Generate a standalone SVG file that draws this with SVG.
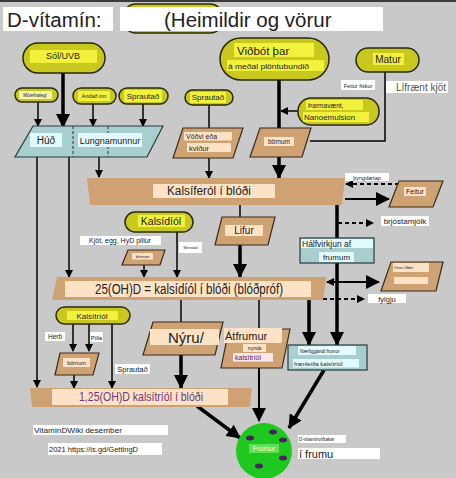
<svg xmlns="http://www.w3.org/2000/svg" width="456" height="478" viewBox="0 0 456 478">
<style>
text{font-family:"Liberation Sans",Arial,sans-serif;fill:#222}
.pill{fill:#c8c81e;stroke:#2a2a08;stroke-width:1.5}
.pl{fill:#f2f23c}
.tan{fill:#cfa273;stroke:#3a2a1a;stroke-width:1.2}
.bar{fill:#cfa273}
.tl{fill:#fde2c6}
.wb{fill:#ffffff}
.teal{fill:#a8cfd0;stroke:#2a3a3a;stroke-width:1.2}
.cy{fill:#e2fafc}
.ln{stroke:#000;stroke-width:1.5;fill:none}
.tk{stroke:#000;stroke-width:3.5;fill:none}
.ds{stroke:#000;stroke-width:2;fill:none;stroke-dasharray:4 3}
</style>
<defs>
<marker id="ah" markerWidth="8" markerHeight="8" refX="7" refY="4" orient="auto-start-reverse" markerUnits="userSpaceOnUse"><path d="M0,0 L8,4 L0,8 z" fill="#000"/></marker>
<marker id="AH" markerWidth="14" markerHeight="14" refX="13" refY="7" orient="auto-start-reverse" markerUnits="userSpaceOnUse"><path d="M0,0 L14,7 L0,14 z" fill="#000"/></marker>
</defs>
<rect x="0" y="0" width="456" height="478" fill="#c9c9c9"/>
<rect x="0" y="0" width="456" height="2" fill="#3a3a3a"/>

<g id="title">
<rect x="123" y="4" width="100" height="29" rx="13" class="pill"/>
<rect x="3" y="7" width="110" height="24" class="wb"/>
<text x="7" y="27" font-size="20.5">D-vítamín:</text>
<rect x="120" y="7" width="263" height="24" class="wb"/>
<text x="164" y="27" font-size="20.5">(Heimildir og vörur</text>
</g>

<g id="connectors">
<line x1="38" y1="102" x2="38" y2="126" class="ln" marker-end="url(#ah)"/>
<line x1="63" y1="73" x2="63" y2="127" class="tk" marker-end="url(#AH)"/>
<line x1="93" y1="104" x2="93" y2="126" class="ln" marker-end="url(#ah)"/>
<line x1="143" y1="104" x2="143" y2="126" class="ln" marker-end="url(#ah)"/>
<line x1="209" y1="105" x2="209" y2="128" class="ln"/>
<line x1="279" y1="80" x2="279" y2="128" class="tk"/>
<line x1="298" y1="111" x2="281" y2="111" class="ln" marker-end="url(#ah)"/>
<polyline points="385,72 385,141 310,141" class="ln"/>
<line x1="99" y1="157" x2="99" y2="177" class="ln" marker-end="url(#ah)"/>
<line x1="209" y1="158" x2="209" y2="178" class="ln" marker-end="url(#ah)"/>
<line x1="279" y1="157" x2="279" y2="178" class="tk" marker-end="url(#AH)"/>
<line x1="37" y1="157" x2="37" y2="387" class="ln" marker-end="url(#ah)"/>
<line x1="69" y1="157" x2="69" y2="277" class="ln" marker-end="url(#ah)"/>
<line x1="345" y1="199" x2="389" y2="199" class="ln" marker-end="url(#AH)" style="stroke-width:2"/>
<line x1="399" y1="184" x2="346" y2="184" class="ds" marker-end="url(#ah)"/>
<line x1="337" y1="205" x2="337" y2="345" class="tk" marker-end="url(#AH)"/>
<line x1="338" y1="223" x2="373" y2="223" class="ds" marker-end="url(#ah)"/>
<line x1="240" y1="205" x2="240" y2="217" class="ln"/>
<line x1="240" y1="245" x2="240" y2="277" class="tk" marker-end="url(#AH)"/>
<line x1="144" y1="265" x2="144" y2="277" class="ln" marker-end="url(#ah)"/>
<line x1="177" y1="232" x2="177" y2="277" class="ln" marker-end="url(#ah)"/>
<line x1="327" y1="282" x2="379" y2="282" class="ln" marker-start="url(#ah)" marker-end="url(#AH)" style="stroke-width:1.8"/>
<line x1="323" y1="299" x2="364" y2="299" class="ds" marker-end="url(#ah)"/>
<line x1="181" y1="300" x2="181" y2="322" class="ln"/>
<line x1="181" y1="355" x2="181" y2="388" class="tk" marker-end="url(#AH)"/>
<line x1="259" y1="300" x2="259" y2="329" class="ln"/>
<line x1="259" y1="368" x2="259" y2="421" class="ln" marker-end="url(#AH)" style="stroke-width:2"/>
<line x1="309" y1="300" x2="309" y2="345" class="tk" marker-end="url(#AH)"/>
<line x1="324" y1="370" x2="289" y2="428" class="tk" marker-end="url(#AH)"/>
<line x1="197" y1="406" x2="240" y2="438" class="tk" marker-end="url(#AH)"/>
<line x1="73" y1="324" x2="73" y2="351" class="ln" marker-end="url(#ah)"/>
<line x1="89" y1="324" x2="89" y2="351" class="ln" marker-end="url(#ah)"/>
<line x1="74" y1="375" x2="74" y2="388" class="ln" marker-end="url(#ah)"/>
<line x1="112" y1="324" x2="112" y2="388" class="ln" marker-end="url(#ah)"/>
</g>

<g id="sol">
<rect x="23" y="43" width="82" height="30" rx="15" class="pill"/>
<rect x="30" y="50" width="67" height="13" class="pl"/>
<text x="63" y="59" font-size="9" text-anchor="middle">Sól/UVB</text>
</g>
<g id="motefna">
<rect x="15" y="88" width="43" height="14" rx="7" class="pill"/>
<rect x="19" y="91" width="33" height="8" class="pl" style="fill:#f6f6b0"/>
<text x="35" y="97" font-size="4.5" text-anchor="middle">Mótefnalegt</text>
</g>
<g id="andad">
<rect x="73" y="88" width="43" height="16" rx="8" class="pill"/>
<rect x="78" y="91" width="32" height="10" class="pl"/>
<text x="94" y="98" font-size="5.5" text-anchor="middle">Andað inn</text>
</g>
<g id="sprautad1">
<rect x="119" y="88" width="49" height="16" rx="8" class="pill"/>
<rect x="124" y="90" width="38" height="12" class="pl"/>
<text x="143" y="99" font-size="8" text-anchor="middle">Sprautað</text>
</g>
<g id="sprautad2">
<rect x="185" y="90" width="48" height="15" rx="7.5" class="pill"/>
<rect x="190" y="92" width="36" height="11" class="pl"/>
<text x="208" y="100" font-size="8" text-anchor="middle">Sprautað</text>
</g>
<g id="vidbot">
<rect x="220" y="38" width="109" height="42" rx="21" class="pill"/>
<rect x="234" y="43" width="80" height="14" class="pl"/>
<text x="237" y="55" font-size="11.5">Viðbót þar</text>
<rect x="227" y="60" width="97" height="11" class="pl"/>
<text x="228" y="68.5" font-size="8" textLength="81" lengthAdjust="spacingAndGlyphs">á meðal plöntubundið</text>
</g>
<g id="tharmavaent">
<rect x="298" y="98" width="81" height="27" rx="13" class="pill"/>
<rect x="306" y="100" width="57" height="10" class="pl"/>
<text x="308" y="108" font-size="6.5">Þarmavænt,</text>
<rect x="303" y="112" width="66" height="10" class="pl"/>
<text x="304" y="120" font-size="8">Nanoemulsion</text>
</g>
<g id="matur">
<rect x="356" y="48" width="63" height="24" rx="12" class="pill"/>
<rect x="373" y="53" width="31" height="12" class="pl"/>
<text x="388" y="63" font-size="10" text-anchor="middle">Matur</text>
</g>
<g id="matur-labels">
<rect x="341" y="80" width="34" height="10" class="wb"/>
<text x="358" y="87.5" font-size="5.5" text-anchor="middle">Feitur fiskur</text>
<rect x="386" y="81" width="62" height="12" class="wb"/>
<text x="396" y="90.5" font-size="10" fill="#555" style="fill:#555">Lífrænt kjöt</text>
</g>

<g id="hud">
<polygon points="33,126 163,126 147,157 15,157" class="teal"/>
<line x1="73" y1="126" x2="73" y2="157" stroke="#333" stroke-width="1" stroke-dasharray="3 2"/>
<line x1="108" y1="126" x2="108" y2="157" stroke="#333" stroke-width="1" stroke-dasharray="3 2"/>
<rect x="30" y="133" width="32" height="14" class="cy"/>
<text x="46" y="144" font-size="10" text-anchor="middle">Húð</text>
<rect x="78" y="133" width="64" height="14" class="cy"/>
<text x="110" y="143.5" font-size="9" text-anchor="middle">Lungnamunnur</text>
</g>
<g id="vodvi">
<polygon points="183,128 243,128 233,158 173,158" class="tan"/>
<rect x="184" y="132" width="48" height="8.5" class="tl"/>
<text x="186" y="139" font-size="7">Vöðvi eða</text>
<rect x="187" y="143" width="44" height="9" class="tl"/>
<text x="189" y="150.5" font-size="7.5">kviður</text>
</g>
<g id="bornum1">
<polygon points="260,128 311,128 302,157 250,157" class="tan"/>
<rect x="264" y="137" width="30" height="9" class="tl"/>
<text x="279" y="143.5" font-size="6.5" text-anchor="middle">börnum</text>
</g>

<g id="kalsiferol">
<polygon points="87,178 345,178 342,205 90,205" class="bar"/>
<rect x="153" y="184" width="122" height="14" class="tl"/>
<text x="167" y="195" font-size="12" textLength="84" lengthAdjust="spacingAndGlyphs">Kalsíferól í blóði</text>
</g>
<g id="feitur">
<polygon points="399,181 443,181 433,207 389,207" class="tan"/>
<rect x="404" y="187" width="22" height="9" class="tl"/>
<text x="415" y="194" font-size="7" text-anchor="middle">Feitur</text>
</g>
<g id="thyngdartap">
<rect x="345" y="173" width="44" height="8" class="wb"/>
<text x="367" y="179.5" font-size="5.5" text-anchor="middle">þyngdartap</text>
</g>
<g id="brjostamjolk">
<rect x="381" y="216" width="48" height="10" class="wb"/>
<text x="405" y="223.5" font-size="8" text-anchor="middle">brjóstamjólk</text>
</g>
<g id="halfvirkjun">
<rect x="300" y="238" width="74" height="25" class="teal"/>
<rect x="301" y="239" width="72" height="9" class="cy"/>
<text x="302" y="246.5" font-size="8.5">Hálfvirkjun af</text>
<rect x="319" y="252" width="35" height="10" class="cy"/>
<text x="336.5" y="259.5" font-size="8" text-anchor="middle">frumum</text>
</g>

<g id="kalsidiol">
<rect x="125" y="212" width="68" height="20" rx="10" class="pill"/>
<rect x="138" y="215" width="47" height="12" class="pl"/>
<text x="161" y="224.5" font-size="10.5" text-anchor="middle">Kalsídíól</text>
</g>
<g id="kjot">
<rect x="80" y="236" width="81" height="9" class="wb"/>
<text x="120" y="243" font-size="7" text-anchor="middle">Kjöt, egg, HyD pillur</text>
</g>
<g id="bornum2">
<polygon points="128,250 165,250 160,265 122,265" class="tan"/>
<rect x="132" y="253" width="21" height="6.5" class="tl"/>
<text x="142.5" y="258" font-size="4" text-anchor="middle">börnum</text>
</g>
<g id="smalllabel">
<rect x="179" y="242" width="23" height="11" class="wb"/>
<text x="190.5" y="249" font-size="4" text-anchor="middle">Sérstakt</text>
</g>
<g id="lifur">
<polygon points="222,217 275,217 268,245 215,245" class="tan"/>
<rect x="225" y="225" width="38" height="11" class="tl"/>
<text x="244" y="233.5" font-size="10" text-anchor="middle">Lifur</text>
</g>

<g id="oh25">
<polygon points="57,277 326,277 323,300 52,300" class="bar"/>
<rect x="65" y="281" width="246" height="16" class="tl"/>
<text x="95" y="294" font-size="14" textLength="188" lengthAdjust="spacingAndGlyphs">25(OH)D = kalsídíól í blóði (blóðpróf)</text>
</g>
<g id="vefir">
<polygon points="391,262 443,262 436,291 381,291" class="tan"/>
<rect x="393" y="263" width="36" height="9" class="tl"/>
<text x="394" y="269" font-size="3.5">Önnur líffæri</text>
<rect x="394" y="277" width="34" height="7" class="tl"/>
</g>
<g id="fylgju">
<rect x="368" y="294" width="38" height="9" class="wb"/>
<text x="387" y="301.5" font-size="7.5" text-anchor="middle">fylgju</text>
</g>

<g id="kalsitriol">
<rect x="56" y="307" width="74" height="17" rx="8.5" class="pill"/>
<rect x="67" y="311" width="51" height="9" class="pl"/>
<text x="92" y="318.5" font-size="8" text-anchor="middle">Kalsítríól</text>
</g>
<g id="herb">
<rect x="45" y="332" width="20" height="9" class="wb"/>
<text x="55" y="339" font-size="6.5" text-anchor="middle">Herb</text>
<rect x="90" y="332" width="13" height="10" class="wb"/>
<text x="96.5" y="339.5" font-size="6" text-anchor="middle">Pilla</text>
</g>
<g id="bornum3">
<polygon points="60,353 99,353 93,375 55,375" class="tan"/>
<rect x="63" y="358" width="27" height="9" class="tl"/>
<text x="76.5" y="364.5" font-size="5.5" text-anchor="middle">börnum</text>
</g>
<g id="sprautad3">
<rect x="115" y="364" width="35" height="10" class="wb"/>
<text x="132.5" y="371.5" font-size="7.5" text-anchor="middle">Sprautað</text>
</g>
<g id="nyru">
<polygon points="153,322 223,322 215,355 143,355" class="tan"/>
<rect x="150" y="329" width="69" height="16" class="tl"/>
<text x="168" y="343" font-size="15">Nýru/</text>
</g>
<g id="atfrumur">
<polygon points="229,329 290,329 282,368 221,368" class="tan"/>
<rect x="224" y="328" width="58" height="15" class="tl"/>
<text x="225" y="340" font-size="11">Átfrumur</text>
<rect x="243" y="344" width="23" height="8" class="tl"/>
<text x="254.5" y="350" font-size="4.5" text-anchor="middle">mynda</text>
<rect x="233" y="353" width="40" height="8.5" fill="#fbe8ee"/>
<text x="235" y="360" font-size="7" style="fill:#5a2060">kalsítríól</text>
</g>
<g id="naerliggjandi">
<rect x="288" y="345" width="79" height="25" class="teal"/>
<rect x="298" y="346" width="58" height="9" class="cy"/>
<text x="300" y="352.5" font-size="4.5">Nærliggjandi frumur</text>
<rect x="293" y="359" width="66" height="8.5" class="cy"/>
<text x="294" y="365.5" font-size="6">framleiða kalsítríól</text>
</g>

<g id="oh125">
<polygon points="30,388 252,388 250,407 32,407" class="bar"/>
<rect x="52" y="389" width="176" height="16" class="tl"/>
<text x="79" y="401" font-size="13" textLength="124" lengthAdjust="spacingAndGlyphs" style="fill:#6b3a7c">1,25(OH)D kalsítríól í blóði</text>
</g>

<g id="frumur">
<circle cx="264" cy="451" r="28" fill="#1fc81f"/>
<ellipse cx="273" cy="432" rx="4" ry="2.5" fill="#4a2060"/>
<ellipse cx="250" cy="438" rx="4" ry="2.5" fill="#4a2060"/>
<ellipse cx="283" cy="440" rx="4" ry="2.5" fill="#4a2060"/>
<ellipse cx="283" cy="458" rx="4" ry="2.5" fill="#4a2060"/>
<ellipse cx="259" cy="466" rx="4" ry="2.5" fill="#4a2060"/>
<rect x="249" y="444" width="30" height="9" fill="#5fe05a"/>
<text x="264" y="451" font-size="7" text-anchor="middle" style="fill:#eaffea">Frumur</text>
</g>
<g id="vidtakar">
<rect x="298" y="435" width="48" height="8" class="wb"/>
<text x="299" y="441" font-size="4.5">D-vítamínviðtakar</text>
<rect x="298" y="448" width="82" height="11" class="wb"/>
<text x="299" y="457.5" font-size="11">í frumu</text>
</g>
<g id="credit">
<rect x="33" y="425" width="135" height="10" class="wb"/>
<text x="34" y="433" font-size="8" textLength="88" lengthAdjust="spacingAndGlyphs">VitaminDWiki desember</text>
<rect x="48" y="443" width="114" height="12" class="wb"/>
<text x="49" y="452" font-size="7" textLength="89" lengthAdjust="spacingAndGlyphs">2021 https://is.gd/GettingD</text>
</g>
</svg>
